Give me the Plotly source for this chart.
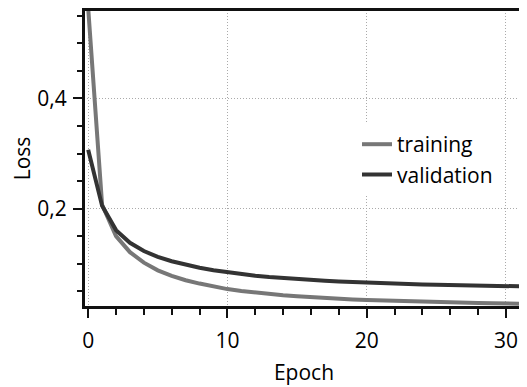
import plotly.graph_objects as go

epochs = list(range(32))
training = [0.564, 0.207, 0.150, 0.121, 0.102, 0.088, 0.078, 0.070, 0.064, 0.0585,
            0.054, 0.0505, 0.0475, 0.045, 0.0428, 0.0409, 0.0392, 0.0378, 0.0365, 0.0353,
            0.0343, 0.0334, 0.0326, 0.0318, 0.0311, 0.0305, 0.0299, 0.0294, 0.0289, 0.0284,
            0.0280, 0.0276]
validation = [0.307, 0.205, 0.161, 0.138, 0.123, 0.1125, 0.1045, 0.098, 0.0928, 0.0883,
              0.0845, 0.0812, 0.0784, 0.076, 0.0739, 0.072, 0.0704, 0.069, 0.0677, 0.0666,
              0.0656, 0.0647, 0.0639, 0.0632, 0.0625, 0.0619, 0.0613, 0.0608, 0.0603, 0.0598,
              0.0594, 0.059]

FONT = "Open Sans"
FS = 21

fig = go.Figure()
fig.add_trace(go.Scatter(x=epochs, y=training, mode="lines", name="training",
                         line=dict(color="#777777", width=4)))
fig.add_trace(go.Scatter(x=epochs, y=validation, mode="lines", name="validation",
                         line=dict(color="#333333", width=4)))

axis_common = dict(showline=True, linecolor="#111111", linewidth=2, mirror=True,
                   ticks="outside", tickcolor="#111111", tickwidth=2, ticklen=9,
                   showgrid=True, gridcolor="#aaaaaa", gridwidth=1, griddash="1px,2px",
                   zeroline=False, automargin=False,
                   tickfont=dict(size=FS, color="black", family=FONT))

fig.update_xaxes(range=[-0.3, 31.3], dtick=10, tick0=0, ticklabelstandoff=5,
                 title=dict(text="Epoch", font=dict(size=FS, color="black", family=FONT), standoff=12),
                 minor=dict(dtick=2, tick0=0, ticks="outside", ticklen=6, tickwidth=2,
                            tickcolor="#111111", showgrid=False),
                 **axis_common)
fig.update_yaxes(range=[0.0215, 0.5604], dtick=0.2, tick0=0, ticklabelstandoff=2,
                 title=dict(text="Loss", font=dict(size=FS, color="black", family=FONT), standoff=2),
                 minor=dict(dtick=0.05, tick0=0, ticks="outside", ticklen=5, tickwidth=2,
                            tickcolor="#111111", showgrid=False),
                 **axis_common)

# plot-area frame
fig.add_shape(type="rect", xref="paper", yref="paper", x0=0, x1=1, y0=0, y1=1,
              line=dict(color="#111111", width=2), fillcolor="rgba(0,0,0,0)", layer="above")

fig.update_layout(
    template="none",
    width=519, height=379,
    margin=dict(l=76, r=3, t=2, b=80, autoexpand=False),
    paper_bgcolor="white", plot_bgcolor="white",
    separators=", ",
    font=dict(family=FONT, size=FS, color="black"),
    legend=dict(x=0.6205, y=0.616, xanchor="left", yanchor="top",
                bgcolor="white", borderwidth=0, font=dict(size=FS, color="black", family=FONT),
                itemwidth=30, tracegroupgap=0),
    showlegend=True,
)

fig.write_html("out.html")
